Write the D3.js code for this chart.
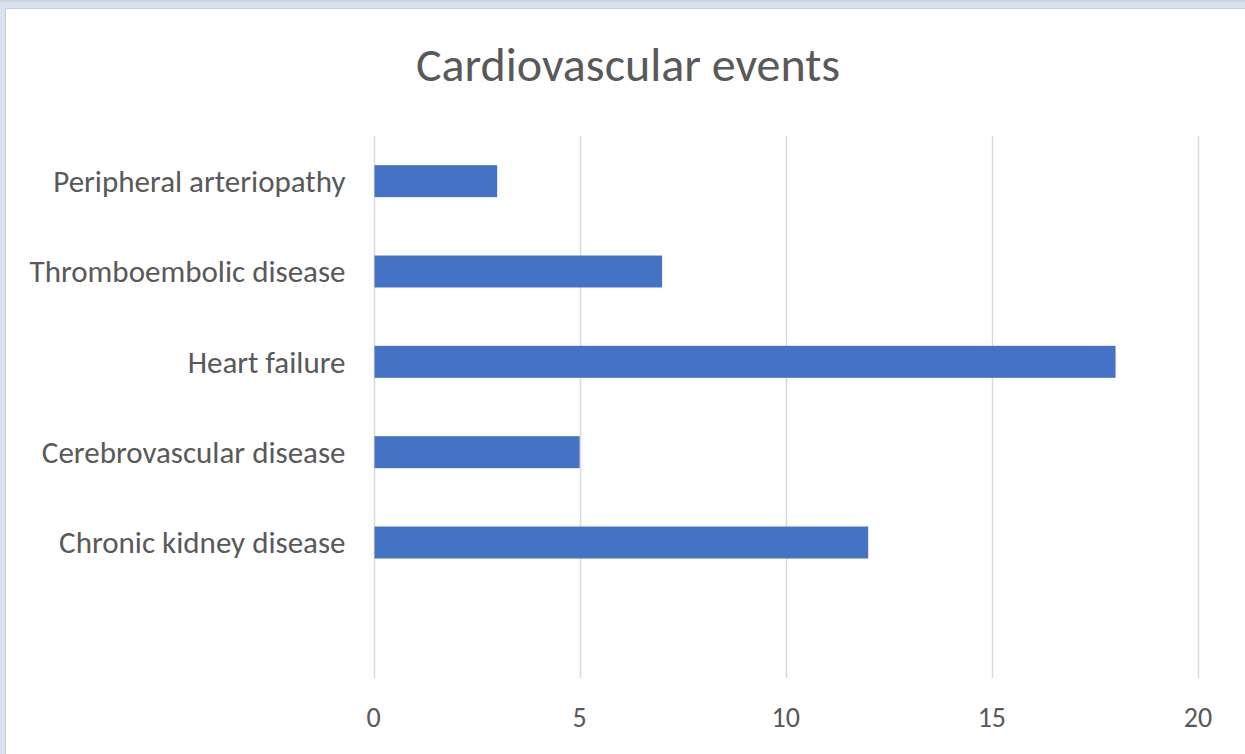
<!DOCTYPE html>
<html>
<head>
<meta charset="utf-8">
<script src="https://cdn.jsdelivr.net/npm/d3@7"></script>
<style>
  body { margin: 0; background: #fff; }
  text { font-family: Carlito, Lato, "Open Sans", sans-serif; fill: #595959; }
</style>
</head>
<body>
<svg id="chart" width="1245" height="754"></svg>
<script>
// chart data, top to bottom (last slot is empty in the original)
var categories = ["Peripheral arteriopathy", "Thromboembolic disease", "Heart failure",
                  "Cerebrovascular disease", "Chronic kidney disease", ""];
var values = [3, 7, 18, 5, 12, null];
var xTicks = [0, 5, 10, 15, 20];
var chartTitle = "Cardiovascular events";

var width = 1245, height = 754;
var plot = { left: 373.5, right: 1198, top: 136, bottom: 678 };

var svg = d3.select("#chart");

// frame around the chart (light blue band at top / left)
svg.append("rect").attr("width", width).attr("height", height).attr("fill", "#d9e2f2");
svg.append("rect").attr("x", 0).attr("y", 0).attr("width", width).attr("height", 2).attr("fill", "#cfd3da");
svg.append("rect").attr("x", 6).attr("y", 9).attr("width", width - 6).attr("height", height - 9).attr("fill", "#fff");
svg.append("line").attr("x1", 5.5).attr("x2", width).attr("y1", 8.5).attr("y2", 8.5).attr("stroke", "#c9ced6");
svg.append("line").attr("x1", 5.5).attr("x2", 5.5).attr("y1", 8.5).attr("y2", height).attr("stroke", "#c9ced6");

var rows = categories.map(function(c, i) { return { name: c, value: values[i] }; });

var x = d3.scaleLinear().domain([0, 20]).range([plot.left, plot.right]);
var y = d3.scaleBand().domain(categories).range([plot.top, plot.bottom])
    .paddingInner(0.646).paddingOuter(0.323);

// gridlines
svg.append("g").selectAll("line").data(xTicks).enter().append("line")
    .attr("x1", function(d) { return Math.round(x(d)) + 0.5; })
    .attr("x2", function(d) { return Math.round(x(d)) + 0.5; })
    .attr("y1", plot.top).attr("y2", plot.bottom)
    .attr("stroke", "#d9d9d9").attr("stroke-width", 1.5);

// bars
svg.append("g").selectAll("rect").data(rows.filter(function(d) { return d.value != null; }))
    .enter().append("rect")
    .attr("x", x(0) + 1)
    .attr("y", function(d) { return y(d.name); })
    .attr("width", function(d) { return x(d.value) - x(0) - 1; })
    .attr("height", y.bandwidth())
    .attr("fill", "#4472c4");

// category labels
svg.append("g").selectAll("text").data(rows).enter().append("text")
    .attr("x", plot.left - 28)
    .attr("y", function(d) { return y(d.name) + y.bandwidth() / 2; })
    .attr("dy", "0.35em")
    .attr("text-anchor", "end")
    .style("font-size", "31px")
    .text(function(d) { return d.name; });

// value axis labels
svg.append("g").selectAll("text").data(xTicks).enter().append("text")
    .attr("x", function(d) { return x(d); })
    .attr("y", 717)
    .attr("dy", "0.35em")
    .attr("text-anchor", "middle")
    .style("font-size", "28px")
    .text(function(d) { return d; });

// title
svg.append("text")
    .attr("x", 628).attr("y", 81)
    .attr("text-anchor", "middle")
    .style("font-size", "48px")
    .text(chartTitle);
</script>
</body>
</html>
